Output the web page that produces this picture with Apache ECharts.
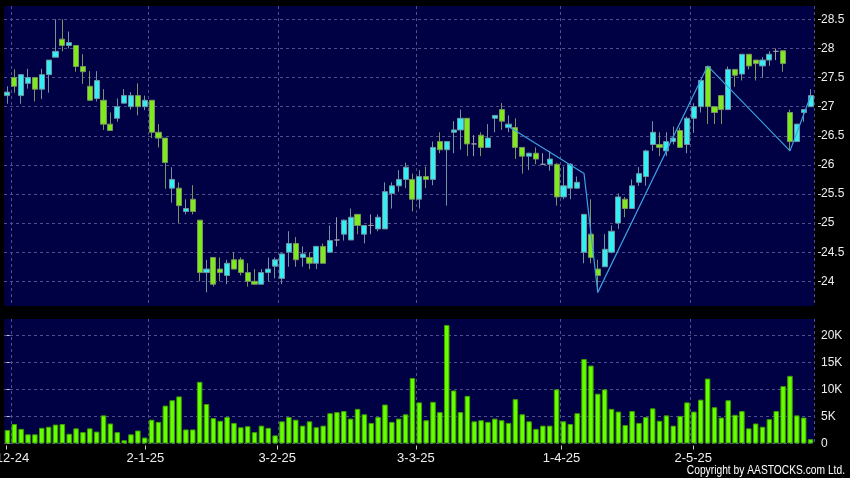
<!DOCTYPE html>
<html><head><meta charset="utf-8">
<script src="https://cdn.jsdelivr.net/npm/echarts@6/dist/echarts.min.js"></script>
<style>html,body{margin:0;padding:0;background:#000;}#c{width:850px;height:478px;}</style>
</head><body><div id="c"></div>
<script>
const dates = [
'2-12-24','3-12-24','4-12-24','5-12-24','6-12-24','9-12-24','10-12-24','11-12-24','12-12-24','13-12-24','16-12-24','17-12-24','18-12-24','19-12-24','20-12-24','23-12-24','24-12-24','27-12-24','30-12-24','31-12-24',
'2-1-25','3-1-25','6-1-25','7-1-25','8-1-25','9-1-25','10-1-25','13-1-25','14-1-25','15-1-25','16-1-25','17-1-25','20-1-25','21-1-25','22-1-25','23-1-25','24-1-25','27-1-25','28-1-25',
'3-2-25','4-2-25','5-2-25','6-2-25','7-2-25','10-2-25','11-2-25','12-2-25','13-2-25','14-2-25','17-2-25','18-2-25','19-2-25','20-2-25','21-2-25','24-2-25','25-2-25','26-2-25','27-2-25','28-2-25',
'3-3-25','4-3-25','5-3-25','6-3-25','7-3-25','10-3-25','11-3-25','12-3-25','13-3-25','14-3-25','17-3-25','18-3-25','19-3-25','20-3-25','21-3-25','24-3-25','25-3-25','26-3-25','27-3-25','28-3-25','31-3-25',
'1-4-25','2-4-25','3-4-25','7-4-25','8-4-25','9-4-25','10-4-25','11-4-25','14-4-25','15-4-25','16-4-25','17-4-25','22-4-25','23-4-25','24-4-25','25-4-25','28-4-25','29-4-25','30-4-25',
'2-5-25','6-5-25','7-5-25','8-5-25','9-5-25','12-5-25','13-5-25','14-5-25','15-5-25','16-5-25','19-5-25','20-5-25','21-5-25','22-5-25','23-5-25','26-5-25','27-5-25','28-5-25','29-5-25'
];
const opens = [
27.19,27.50,27.19,27.40,27.50,27.30,27.55,27.85,28.16,28.05,28.05,27.69,27.35,27.14,27.11,26.70,26.80,27.06,27.00,27.19,
27.00,27.11,26.56,26.46,25.60,25.60,25.20,25.41,25.05,24.15,24.41,24.21,24.10,24.37,24.37,24.15,24.00,23.95,24.15,
24.26,24.05,24.50,24.65,24.41,24.41,24.31,24.60,24.50,24.71,24.81,24.71,25.15,24.81,24.96,24.90,24.90,25.51,25.64,25.75,
25.75,25.41,25.80,25.75,26.40,26.26,26.56,26.60,26.80,26.36,26.51,26.30,26.80,26.95,26.64,26.64,26.30,26.15,26.20,26.01,26.01,
26.01,25.45,25.60,25.60,24.50,24.81,24.21,24.25,24.50,25.00,25.41,25.25,25.70,25.80,26.35,26.35,26.24,26.40,26.59,
26.35,26.80,27.00,27.69,27.00,27.19,26.95,27.64,27.56,27.90,27.80,27.70,27.80,27.95,27.96,26.90,26.40,26.90,27.00
];
const closes = [
27.25,27.35,27.55,27.50,27.30,27.55,27.80,27.95,28.05,28.10,27.69,27.60,27.11,27.45,26.70,26.59,27.00,27.19,27.19,27.00,
27.11,26.56,26.46,26.04,25.75,25.30,25.25,25.20,24.15,24.21,23.95,24.15,24.31,24.21,24.15,24.00,23.95,24.15,24.21,
24.37,24.47,24.65,24.37,24.47,24.31,24.60,24.31,24.70,24.71,25.05,25.10,24.96,24.96,24.96,25.10,25.54,25.64,25.75,25.96,
25.41,25.80,25.75,26.30,26.26,26.40,26.60,26.80,26.36,26.36,26.30,26.46,26.85,26.75,26.70,26.30,26.15,26.20,26.10,26.01,26.10,
25.45,25.64,26.01,25.70,25.15,24.41,24.10,24.55,24.86,25.45,25.25,25.64,25.85,26.24,26.56,26.30,26.40,26.46,26.30,
26.80,27.00,27.45,27.00,26.90,26.95,27.64,27.54,27.90,27.70,27.74,27.80,27.90,27.95,27.74,26.40,26.70,26.95,27.19
];
const lows = [
27.05,27.24,27.05,27.31,27.09,27.13,27.24,27.85,27.95,28.00,27.60,27.39,27.10,27.09,26.60,26.59,26.74,27.06,26.95,26.85,
26.94,26.46,26.30,25.59,25.35,25.00,25.15,25.15,24.00,23.81,23.91,24.00,23.95,24.21,24.10,23.91,23.95,23.95,24.00,
24.05,23.95,24.25,24.25,24.25,24.21,24.21,24.31,24.50,24.60,24.70,24.71,24.81,24.65,24.81,24.86,24.90,25.25,25.54,25.60,
25.20,25.25,25.60,25.65,26.20,25.30,26.20,26.26,26.15,26.15,26.15,26.30,26.56,26.60,26.56,26.10,25.85,25.91,26.01,26.01,25.90,
25.30,25.41,25.41,25.59,24.31,24.31,23.81,24.25,24.48,24.90,25.10,25.25,25.64,25.64,26.24,26.15,26.15,26.35,26.30,
26.20,26.55,26.90,26.70,26.70,26.70,26.95,27.34,27.45,27.64,27.45,27.50,27.70,27.80,27.60,26.24,26.40,26.74,27.00
];
const highs = [
27.35,27.64,27.56,27.65,27.51,27.65,27.80,28.50,28.50,28.29,28.05,27.90,27.61,27.61,27.30,26.90,27.14,27.30,27.25,27.40,
27.19,27.11,26.70,26.46,25.96,25.70,25.41,25.65,25.05,24.37,24.41,24.41,24.37,24.50,24.41,24.31,24.21,24.21,24.41,
24.41,24.48,24.86,24.76,24.60,24.50,24.61,24.65,24.96,25.10,25.06,25.25,25.15,24.96,25.15,25.15,25.70,25.70,25.91,26.04,
25.85,25.91,25.97,26.40,26.56,26.40,26.75,26.95,26.80,26.51,26.56,26.70,26.85,27.06,26.85,26.80,26.30,26.21,26.30,26.20,26.24,
26.03,25.97,26.03,25.80,25.15,25.41,24.37,24.81,24.96,25.51,25.45,25.75,25.96,26.26,26.75,26.56,26.56,26.66,26.64,
26.83,27.06,27.46,27.70,27.00,27.19,27.69,27.64,27.90,27.90,27.80,27.85,27.95,28.00,27.96,26.95,26.70,26.95,27.30
];
// volume in thousands of shares
const volumes = [
2.5,3.6,2.7,1.7,1.7,2.9,3.1,3.5,3.6,1.8,2.8,2.1,2.8,2.2,5.2,3.7,2.1,0.6,1.7,2.4,
1.1,4.4,4.0,7.0,8.0,8.7,2.6,2.6,11.4,7.3,4.7,4.2,4.9,3.8,3.0,3.2,2.1,3.3,2.9,
1.5,4.1,4.9,4.4,3.3,4.1,3.0,3.3,5.6,5.8,6.0,4.6,6.4,5.4,3.8,4.9,7.2,4.0,4.6,5.4,
12.1,7.6,4.3,7.7,5.8,21.9,9.8,5.8,8.8,4.1,4.3,4.0,4.6,4.3,3.8,8.2,5.4,4.1,2.7,3.3,3.3,
10.0,4.1,3.6,5.6,15.6,14.4,9.2,10.0,6.4,5.9,3.4,6.0,3.8,4.9,6.5,4.2,5.2,3.3,5.1,
7.6,5.9,8.1,12.0,6.7,4.8,8.0,5.3,6.0,2.8,3.7,3.1,4.5,6.0,10.6,12.5,5.2,4.8,0.8
];
// turning-point line
const lineIdx = [73, 84, 86, 102, 114, 117];
const lineVals = [26.66, 25.85, 23.81, 27.70, 26.24, 27.18];
const priceTicks = [24, 24.5, 25, 25.5, 26, 26.5, 27, 27.5, 28, 28.5];
const volumeTicks = [0, 5, 10, 15, 20];

const labelIdx = dates.map((d, i) => (i === 0 || d.split('-')[1] !== dates[i - 1].split('-')[1]) ? i : -1).filter(i => i >= 0);
const gridLineIdx = new Set(labelIdx.map(i => i + 1));

const candleData = dates.map((d, i) => [opens[i], closes[i], lows[i], highs[i]]);
const lineData = lineIdx.map((i, k) => [dates[i], lineVals[k]]);

const gridLineStyle = { color: '#4f4f8a', width: 1, type: [3, 3] };
const labelFont = 'Liberation Sans';

const chart = echarts.init(document.getElementById('c'), null, { renderer: 'canvas' });
chart.setOption({
  backgroundColor: '#000000',
  animation: false,
  grid: [
    { left: 4, right: 36, top: 6, height: 300, show: true, backgroundColor: '#000044', borderWidth: 0, containLabel: false, outerBoundsMode: 'none' },
    { left: 4, right: 36, top: 319, height: 124.5, show: true, backgroundColor: '#000044', borderWidth: 0, containLabel: false, outerBoundsMode: 'none' }
  ],
  xAxis: [
    { type: 'category', gridIndex: 0, data: dates, boundaryGap: true,
      axisLine: { show: false }, axisTick: { show: false }, axisLabel: { show: false },
      splitLine: { show: true, interval: (i) => gridLineIdx.has(i), lineStyle: gridLineStyle } },
    { type: 'category', gridIndex: 1, data: dates, boundaryGap: true,
      axisLine: { show: false }, axisTick: { show: false }, axisLabel: { show: false },
      splitLine: { show: true, interval: (i) => gridLineIdx.has(i), lineStyle: gridLineStyle } },
    { type: 'value', gridIndex: 1, position: 'bottom', min: -0.39, max: 116.41, offset: 2,
      axisLine: { show: false },
      axisTick: { show: true, length: 4, customValues: labelIdx, lineStyle: { color: '#cccccc' } },
      axisLabel: { show: true, customValues: labelIdx, margin: 6, color: '#eeeeee', fontSize: 13, fontFamily: labelFont,
        hideOverlap: false, formatter: (v) => dates[Math.round(v)] },
      splitLine: { show: false } }
  ],
  yAxis: [
    { type: 'value', gridIndex: 0, position: 'right', min: 23.576, max: 28.729, offset: 4,
      axisLine: { show: false },
      axisTick: { show: true, length: 3, customValues: priceTicks, lineStyle: { color: '#cccccc' } },
      axisLabel: { show: true, customValues: priceTicks, margin: 3, color: '#eeeeee', fontSize: 12, fontFamily: labelFont },
      splitLine: { show: true, lineStyle: gridLineStyle } },
    { type: 'value', gridIndex: 1, position: 'right', min: 0, max: 23.0, offset: 4,
      axisLine: { show: false },
      axisTick: { show: true, length: 3, customValues: volumeTicks, lineStyle: { color: '#cccccc' } },
      axisLabel: { show: true, customValues: volumeTicks, margin: 3, color: '#eeeeee', fontSize: 12, fontFamily: labelFont,
        formatter: (v) => v === 0 ? '0' : v + 'K' },
      splitLine: { show: true, lineStyle: gridLineStyle } }
  ],
  series: [
    { type: 'candlestick', xAxisIndex: 0, yAxisIndex: 0, data: candleData, barWidth: '82%',
      itemStyle: { color: '#33eef2', color0: '#7eea1e', borderColor: '#6f94a0', borderColor0: '#7a9460',
        borderColorDoji: '#9a9aa6', borderWidth: 1 } },
    { type: 'line', xAxisIndex: 0, yAxisIndex: 0, data: lineData, symbol: 'none',
      lineStyle: { color: '#3c9fe0', width: 1.2 }, z: 5 },
    { type: 'bar', xAxisIndex: 1, yAxisIndex: 1, data: volumes, barWidth: '80%',
      itemStyle: { color: '#66ff00', borderColor: '#3f9c00', borderWidth: 1 } }
  ],
  graphic: [
    { type: 'text', x: 845, y: 464, scaleX: 0.82, scaleY: 1,
      style: { text: 'Copyright by AASTOCKS.com Ltd.', fill: '#ffffff', align: 'right', textAlign: 'right',
        font: '12.5px "Liberation Sans", Arial, sans-serif' } }
  ]
});
</script>
</body></html>
